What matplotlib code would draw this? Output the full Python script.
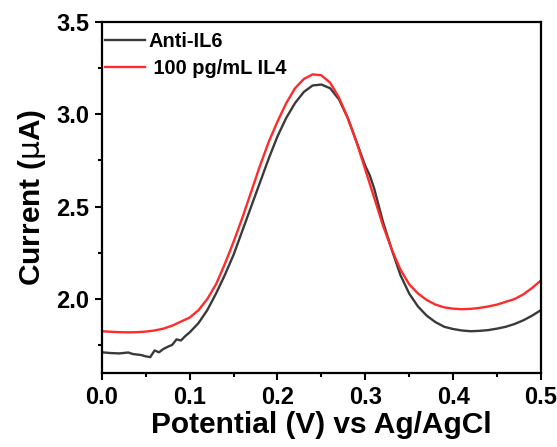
import numpy as np
import matplotlib
matplotlib.use('Agg')
import matplotlib.pyplot as plt
from matplotlib.ticker import MultipleLocator

# Anti-IL6 (black)
pot_black = [0.00, 0.01, 0.02, 0.03, 0.035, 0.04, 0.045, 0.05, 0.055, 0.06, 0.065, 0.07,
             0.075, 0.08, 0.085, 0.09, 0.095, 0.10, 0.11, 0.12, 0.13, 0.14, 0.15, 0.16,
             0.17, 0.18, 0.19, 0.20, 0.21, 0.22, 0.23, 0.24, 0.25, 0.26, 0.27, 0.28,
             0.29, 0.30, 0.305, 0.31, 0.32, 0.33, 0.34, 0.35, 0.36, 0.37, 0.38, 0.39,
             0.40, 0.41, 0.42, 0.43, 0.44, 0.45, 0.46, 0.47, 0.48, 0.49, 0.50]
cur_black = [1.712, 1.708, 1.706, 1.711, 1.703, 1.700, 1.697, 1.690, 1.686, 1.722, 1.712, 1.730,
             1.742, 1.752, 1.782, 1.776, 1.800, 1.820, 1.870, 1.940, 2.030, 2.130, 2.240, 2.370,
             2.500, 2.630, 2.760, 2.880, 2.980, 3.060, 3.120, 3.155, 3.160, 3.140, 3.080, 2.980,
             2.850, 2.720, 2.670, 2.600, 2.420, 2.270, 2.130, 2.030, 1.960, 1.910, 1.875, 1.850,
             1.838, 1.830, 1.826, 1.828, 1.832, 1.840, 1.850, 1.865, 1.885, 1.910, 1.940]

# 100 pg/mL IL4 (red)
pot_red = [0.00, 0.01, 0.02, 0.03, 0.04, 0.05, 0.06, 0.07, 0.08, 0.09, 0.10, 0.11, 0.12,
           0.13, 0.14, 0.15, 0.16, 0.17, 0.18, 0.19, 0.20, 0.21, 0.22, 0.23, 0.24, 0.25,
           0.26, 0.27, 0.28, 0.29, 0.30, 0.31, 0.32, 0.33, 0.34, 0.35, 0.36, 0.37, 0.38,
           0.39, 0.40, 0.41, 0.42, 0.43, 0.44, 0.45, 0.46, 0.47, 0.48, 0.49, 0.50]
cur_red = [1.826, 1.823, 1.821, 1.820, 1.821, 1.824, 1.830, 1.840, 1.856, 1.878, 1.900, 1.940, 2.000,
           2.080, 2.190, 2.310, 2.440, 2.580, 2.720, 2.850, 2.960, 3.060, 3.140, 3.190, 3.215, 3.210,
           3.170, 3.090, 2.980, 2.850, 2.700, 2.550, 2.400, 2.270, 2.160, 2.080, 2.030, 1.995, 1.970,
           1.955, 1.948, 1.945, 1.947, 1.952, 1.960, 1.970, 1.985, 2.000, 2.025, 2.060, 2.100]

fig = plt.figure(figsize=(5.57, 4.47), dpi=100)
ax = fig.add_axes([0.183, 0.1655, 0.788, 0.786])

ax.plot(pot_black, cur_black, color='#3a3a3a', lw=1.7, label='Anti-IL6')
ax.plot(pot_red, cur_red, color='#ff2a2a', lw=1.7, label=' 100 pg/mL IL4')

ax.set_xlim(0.0, 0.5)
ax.set_ylim(1.6, 3.5)
ax.xaxis.set_major_locator(MultipleLocator(0.1))
ax.xaxis.set_minor_locator(MultipleLocator(0.05))
ax.yaxis.set_major_locator(MultipleLocator(0.5))
ax.yaxis.set_minor_locator(MultipleLocator(0.25))
ax.tick_params(which='major', direction='out', length=5, width=1.5, labelsize=17, pad=4)
ax.tick_params(which='minor', direction='out', length=3, width=1.5)
for lab in ax.get_xticklabels() + ax.get_yticklabels():
    lab.set_fontweight('bold')
    lab.set_family('Liberation Sans')
for sp in ax.spines.values():
    sp.set_linewidth(1.6)

ax.set_xlabel('Potential (V) vs Ag/AgCl', fontsize=21.5, fontweight='bold',
              family='Liberation Sans', labelpad=2)
ax.set_ylabel(r'Current ($\mathrm{\mu}$A)', fontsize=21.5, fontweight='bold',
              family='Liberation Sans', labelpad=6)

leg = ax.legend(loc='upper left', bbox_to_anchor=(-0.015, 1.0), frameon=False,
                prop={'family': 'Liberation Sans', 'weight': 'bold', 'size': 14.4},
                handlelength=2.0, handletextpad=0.15, borderaxespad=0.0, borderpad=0.5,
                labelspacing=0.4)

plt.savefig('out.png')
